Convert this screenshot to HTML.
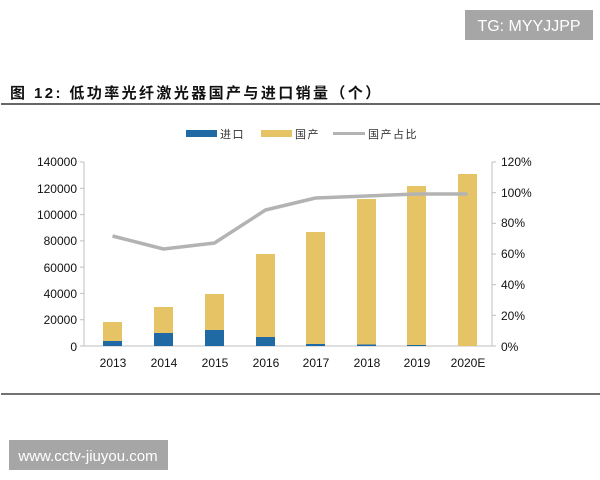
<!DOCTYPE html>
<html><head><meta charset="utf-8"><style>
body{margin:0;background:#fff;}
svg{display:block;font-family:"Liberation Sans","Noto Sans CJK SC",sans-serif;}
</style></head><body>
<svg width="600" height="480" viewBox="0 0 600 480">
<rect x="465" y="10" width="128" height="30" fill="#a6a6a6"/>
<text x="529" y="31" fill="#fff" font-size="16" text-anchor="middle">TG: MYYJJPP</text>
<text x="10" y="98" font-size="15" font-weight="bold" fill="#111" letter-spacing="2.4">图 12: 低功率光纤激光器国产与进口销量（个）</text>
<line x1="1" y1="104" x2="600" y2="104" stroke="#333" stroke-width="1.5"/>
<rect x="186" y="130" width="31" height="7" fill="#1f6aa5"/>
<text x="220" y="138" font-size="11" fill="#333" letter-spacing="1.5">进口</text>
<rect x="261" y="130" width="31" height="7" fill="#e6c465"/>
<text x="295" y="138" font-size="11" fill="#333" letter-spacing="1.5">国产</text>
<line x1="333" y1="133.5" x2="365" y2="133.5" stroke="#b3b3b3" stroke-width="3"/>
<text x="368" y="138" font-size="11" fill="#333" letter-spacing="1.5">国产占比</text>
<g font-size="12" fill="#111">
<text x="77" y="166" text-anchor="end">140000</text>
<text x="77" y="193" text-anchor="end">120000</text>
<text x="77" y="219" text-anchor="end">100000</text>
<text x="77" y="245" text-anchor="end">80000</text>
<text x="77" y="272" text-anchor="end">60000</text>
<text x="77" y="298" text-anchor="end">40000</text>
<text x="77" y="324" text-anchor="end">20000</text>
<text x="77" y="351" text-anchor="end">0</text>
<text x="501" y="166">120%</text>
<text x="501" y="197">100%</text>
<text x="501" y="227">80%</text>
<text x="501" y="258">60%</text>
<text x="501" y="289">40%</text>
<text x="501" y="320">20%</text>
<text x="501" y="351">0%</text>
</g>
<g stroke="#bfbfbf" stroke-width="1">
<line x1="84" y1="162" x2="84" y2="346"/>
<line x1="80" y1="162" x2="84" y2="162"/><line x1="80" y1="188.3" x2="84" y2="188.3"/><line x1="80" y1="214.6" x2="84" y2="214.6"/><line x1="80" y1="240.9" x2="84" y2="240.9"/><line x1="80" y1="267.1" x2="84" y2="267.1"/><line x1="80" y1="293.4" x2="84" y2="293.4"/><line x1="80" y1="319.7" x2="84" y2="319.7"/>
<line x1="80" y1="346" x2="496" y2="346"/>
<line x1="492" y1="162" x2="492" y2="346"/>
<line x1="492" y1="162" x2="496" y2="162"/><line x1="492" y1="192.7" x2="496" y2="192.7"/><line x1="492" y1="223.3" x2="496" y2="223.3"/><line x1="492" y1="254" x2="496" y2="254"/><line x1="492" y1="284.7" x2="496" y2="284.7"/><line x1="492" y1="315.3" x2="496" y2="315.3"/>
</g>
<g fill="#e6c465">
<rect x="103" y="322" width="19" height="24"/>
<rect x="154" y="307" width="19" height="39"/>
<rect x="205" y="294" width="19" height="52"/>
<rect x="256" y="254" width="19" height="92"/>
<rect x="306" y="232" width="19" height="114"/>
<rect x="357" y="199" width="19" height="147"/>
<rect x="407" y="186" width="19" height="160"/>
<rect x="458" y="174" width="19" height="172"/>
</g>
<g fill="#1f6aa5">
<rect x="103" y="341" width="19" height="5"/>
<rect x="154" y="333" width="19" height="13"/>
<rect x="205" y="330" width="19" height="16"/>
<rect x="256" y="337" width="19" height="9"/>
<rect x="306" y="344" width="19" height="2"/>
<rect x="357" y="344.5" width="19" height="1.5"/>
<rect x="407" y="345" width="19" height="1"/>
</g>
<polyline points="112.5,236 163.5,249 214.5,243 265.5,210 315.5,198 366.5,196 416.5,194 467.5,194" fill="none" stroke="#b3b3b3" stroke-width="3.5" stroke-linejoin="round"/>
<g font-size="12" fill="#111" text-anchor="middle">
<text x="113" y="367">2013</text><text x="164" y="367">2014</text><text x="215" y="367">2015</text><text x="266" y="367">2016</text><text x="316" y="367">2017</text><text x="367" y="367">2018</text><text x="417" y="367">2019</text><text x="468" y="367">2020E</text>
</g>
<line x1="1" y1="394" x2="600" y2="394" stroke="#444" stroke-width="1.5"/>
<rect x="9" y="440" width="159" height="30" fill="#a6a6a6"/>
<text x="88" y="461" fill="#fff" font-size="15" text-anchor="middle">www.cctv-jiuyou.com</text>
</svg>
</body></html>
